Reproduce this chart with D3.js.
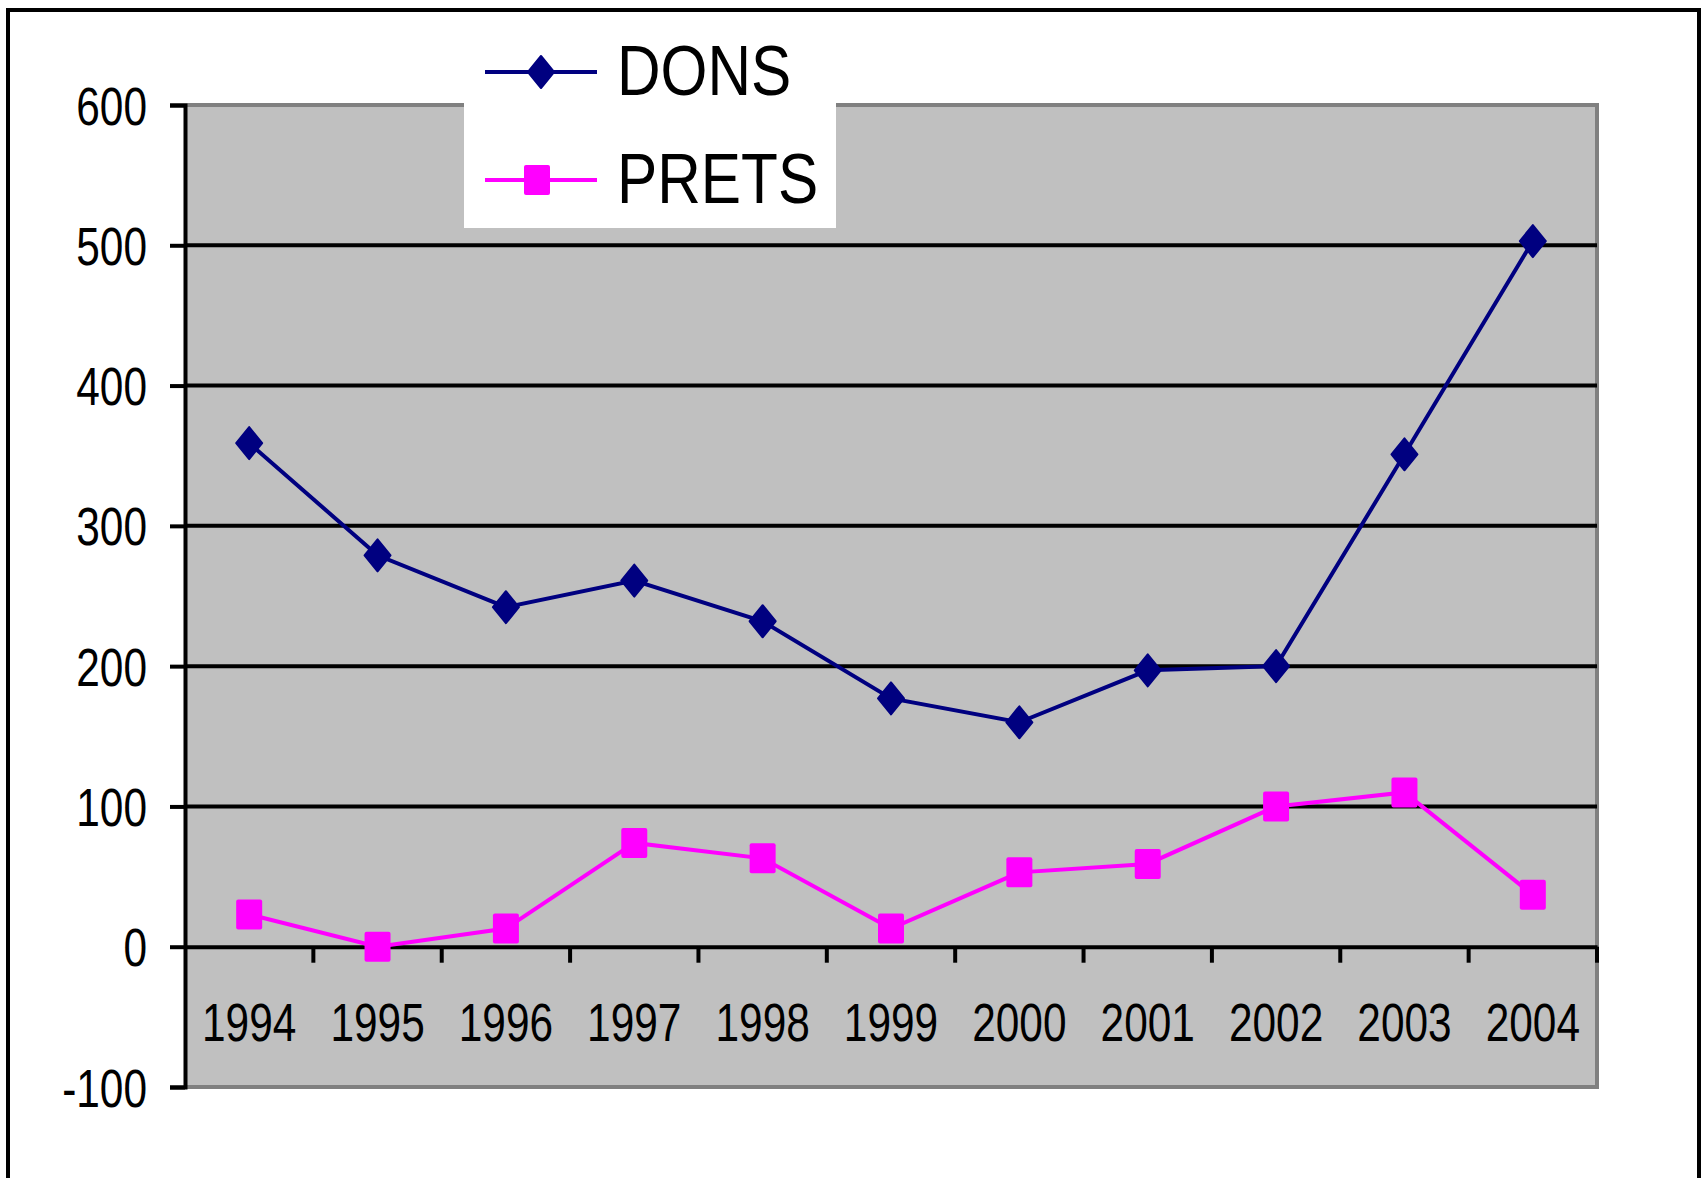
<!DOCTYPE html>
<html>
<head>
<meta charset="utf-8">
<script src="https://d3js.org/d3.v7.min.js"></script>
<style>
  body { margin: 0; background: #fff; }
  text { font-family: "Liberation Sans", Arial, sans-serif; fill: #000; }
</style>
</head>
<body>
<svg width="1704" height="1178"></svg>
<script>
// ----- data -----
var years = ["1994", "1995", "1996", "1997", "1998", "1999", "2000", "2001", "2002", "2003", "2004"];
var dons  = [359, 279, 242, 261, 232, 177, 160, 197, 200, 351, 503];
var prets = [23, 0, 13, 74, 63, 13, 53, 59, 100, 110, 37];
var yTicks = [-100, 0, 100, 200, 300, 400, 500, 600];
var seriesNames = ["DONS", "PRETS"];

var svg = d3.select("svg");

// plot box
var pLeft = 185, pRight = 1597, pTop = 105, pBottom = 1087;

var x = d3.scaleBand().domain(years).range([pLeft, pRight]).padding(0);
var y = d3.scaleLinear().domain([-100, 600]).range([pBottom, pTop]);
var cx = function(d, i) { return x(years[i]) + x.bandwidth() / 2; };

// squeeze text horizontally (source chart looks condensed)
function condense(sel, k) {
  sel.each(function() {
    var w = this.getComputedTextLength();
    d3.select(this).attr("textLength", w * k).attr("lengthAdjust", "spacingAndGlyphs");
  });
}

// outer frame
svg.append("rect")
    .attr("x", 8).attr("y", 10)
    .attr("width", 1691).attr("height", 1170)
    .attr("fill", "#fff").attr("stroke", "#000").attr("stroke-width", 4);

// plot area
svg.append("rect")
    .attr("x", pLeft).attr("y", pTop)
    .attr("width", pRight - pLeft).attr("height", pBottom - pTop)
    .attr("fill", "#c0c0c0");

// grey border top / right / bottom
svg.append("path")
    .attr("d", "M" + pLeft + "," + pTop + "H" + pRight + "V" + pBottom + "H" + pLeft)
    .attr("fill", "none").attr("stroke", "#808080").attr("stroke-width", 4);

// gridlines
svg.append("g").selectAll("line")
    .data(yTicks.filter(function(t) { return t > 0 && t < 600; }))
  .enter().append("line")
    .attr("x1", pLeft).attr("x2", pRight)
    .attr("y1", function(d) { return y(d); })
    .attr("y2", function(d) { return y(d); })
    .attr("stroke", "#000").attr("stroke-width", 4);

// y axis
var yAxis = svg.append("g")
    .attr("transform", "translate(" + pLeft + ",0)")
    .call(d3.axisLeft(y).tickValues(yTicks).tickSize(15).tickPadding(23)
      .tickFormat(function(d) { return String(d); }));
yAxis.select(".domain").attr("stroke", "#000").attr("stroke-width", 4);
yAxis.selectAll(".tick line").attr("stroke", "#000").attr("stroke-width", 4);
yAxis.selectAll("text").attr("font-size", 53).attr("dy", "0.36em")
    .attr("font-family", "Liberation Sans, Arial, sans-serif").attr("fill", "#000")
    .call(condense, 0.8);

// x axis at zero
var xAxis = svg.append("g")
    .attr("transform", "translate(0," + y(0) + ")")
    .call(d3.axisBottom(x).tickSize(0).tickPadding(57));
xAxis.select(".domain").attr("stroke", "#000").attr("stroke-width", 4);
xAxis.selectAll("text").attr("font-size", 53)
    .attr("font-family", "Liberation Sans, Arial, sans-serif").attr("fill", "#000")
    .call(condense, 0.8);

// x ticks on category boundaries
var bounds = years.slice(1).map(function(d) { return x(d); }).concat([pRight]);
svg.append("g").selectAll("line")
    .data(bounds)
  .enter().append("line")
    .attr("x1", function(d) { return d; }).attr("x2", function(d) { return d; })
    .attr("y1", y(0)).attr("y2", y(0) + 16)
    .attr("stroke", "#000").attr("stroke-width", 4);

// markers
var diamond = "M0,-16L13,0L0,16L-13,0Z";
function square(g) {
  g.append("rect").attr("x", -13).attr("y", -15).attr("width", 26).attr("height", 30)
    .attr("rx", 2).attr("fill", "#ff00ff");
}

var line = d3.line().x(cx).y(function(d) { return y(d); });

// PRETS
svg.append("path").datum(prets)
    .attr("d", line).attr("fill", "none")
    .attr("stroke", "#ff00ff").attr("stroke-width", 4);
svg.append("g").selectAll("g")
    .data(prets)
  .enter().append("g")
    .attr("transform", function(d, i) { return "translate(" + cx(d, i) + "," + y(d) + ")"; })
    .each(function() { square(d3.select(this)); });

// DONS
svg.append("path").datum(dons)
    .attr("d", line).attr("fill", "none")
    .attr("stroke", "#000080").attr("stroke-width", 4);
svg.append("g").selectAll("path")
    .data(dons)
  .enter().append("path")
    .attr("d", diamond)
    .attr("transform", function(d, i) { return "translate(" + cx(d, i) + "," + y(d) + ")"; })
    .attr("fill", "#000080").attr("stroke", "#000080").attr("stroke-width", 2)
    .attr("stroke-linejoin", "round");

// legend
var legend = svg.append("g");
legend.append("rect")
    .attr("x", 464).attr("y", 30).attr("width", 372).attr("height", 198)
    .attr("fill", "#fff");

var legY = [72, 180];
var legColors = ["#000080", "#ff00ff"];
seriesNames.forEach(function(name, i) {
  var g = legend.append("g");
  g.append("line")
      .attr("x1", 485).attr("x2", 597)
      .attr("y1", legY[i]).attr("y2", legY[i])
      .attr("stroke", legColors[i]).attr("stroke-width", 4);
  if (i === 0) {
    g.append("path").attr("d", diamond)
        .attr("transform", "translate(541," + legY[i] + ")")
        .attr("fill", legColors[i]).attr("stroke", legColors[i]).attr("stroke-width", 2)
        .attr("stroke-linejoin", "round");
  } else {
    square(g.append("g").attr("transform", "translate(537," + legY[i] + ")"));
  }
  g.append("text")
      .attr("x", 617).attr("y", legY[i] + 23)
      .attr("font-size", 71)
      .text(name)
      .call(condense, 0.85);
});
</script>
</body>
</html>
